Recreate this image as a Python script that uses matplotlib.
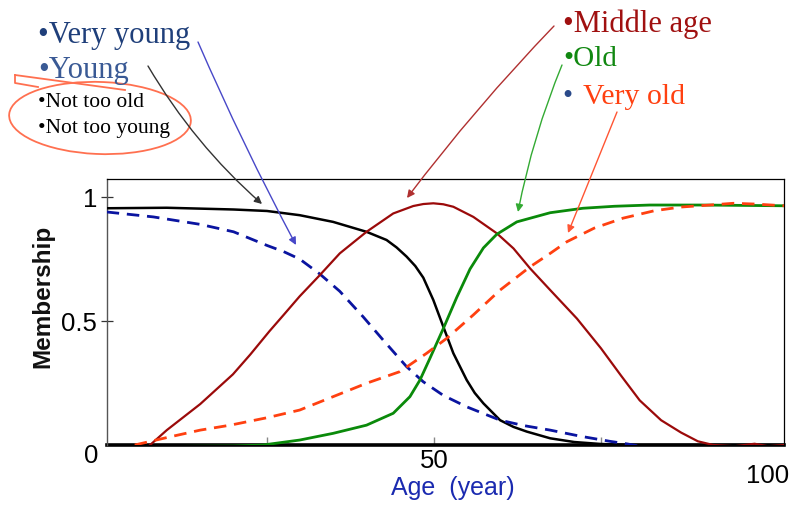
import matplotlib
matplotlib.use("Agg")
import matplotlib.pyplot as plt
from matplotlib.patches import Ellipse, FancyArrowPatch
from matplotlib.lines import Line2D

# ---------------- data ----------------
age_young = [1, 10, 20, 25, 29.9, 34.9, 39.9, 42.9, 44.4, 45.9, 47.2, 48.4, 49.9, 51.4, 52.9, 54.9, 56.1, 57.4, 59.9, 61.9, 63.9, 67.4, 71, 75, 80, 90, 102.4]
young = [0.955, 0.957, 0.95, 0.944, 0.927, 0.90, 0.86, 0.827, 0.797, 0.76, 0.722, 0.675, 0.585, 0.477, 0.37, 0.262, 0.21, 0.168, 0.10, 0.073, 0.054, 0.027, 0.012, 0.004, 0.0, 0.0, 0.0]

age_very_young = [1, 8, 15, 20, 25, 27.5, 29.9, 32.9, 35.9, 39.4, 42.4, 45.9, 48.4, 51.4, 54.9, 59.9, 63.5, 67.4, 72, 76.3, 79, 81.9]
very_young = [0.94, 0.92, 0.89, 0.86, 0.805, 0.78, 0.75, 0.69, 0.62, 0.517, 0.423, 0.316, 0.255, 0.20, 0.154, 0.10, 0.078, 0.06, 0.035, 0.015, 0.004, -0.01]

age_middle = [7.5, 10, 15, 19.9, 22.5, 25.4, 27.5, 29.9, 32.9, 35.9, 39.9, 43.9, 46.9, 48.4, 49.9, 51.4, 52.9, 55.9, 59.4, 61.9, 64.4, 67.4, 71.4, 75, 78, 80.8, 84, 87, 89.5, 91.8, 95, 98, 100, 102.4]
middle = [0.0, 0.06, 0.165, 0.285, 0.365, 0.46, 0.525, 0.60, 0.685, 0.773, 0.86, 0.934, 0.964, 0.972, 0.975, 0.971, 0.961, 0.92, 0.854, 0.793, 0.712, 0.625, 0.51, 0.39, 0.28, 0.18, 0.10, 0.05, 0.015, 0.0, -0.005, 0.005, -0.005, 0.0]

age_old = [1, 10, 20, 24.4, 29.9, 34.9, 39.9, 43.9, 46.4, 47.9, 49.4, 51.4, 53.4, 55.4, 57.4, 59.4, 62.4, 67.4, 72.3, 77, 82.3, 90, 102.4]
old = [-0.006, -0.006, -0.004, 0.0, 0.02, 0.047, 0.08, 0.128, 0.195, 0.262, 0.35, 0.47, 0.595, 0.71, 0.795, 0.85, 0.90, 0.937, 0.955, 0.963, 0.968, 0.968, 0.965]

age_very_old = [5.2, 10, 15, 19.5, 25, 29.9, 34.9, 39.9, 44.9, 48.9, 51.9, 55.9, 59.9, 64.4, 67.4, 69.9, 74, 78.3, 83, 87, 91.3, 94.8, 98, 102.4]
very_old = [0.0, 0.03, 0.06, 0.08, 0.11, 0.141, 0.195, 0.249, 0.296, 0.37, 0.43, 0.525, 0.625, 0.719, 0.773, 0.82, 0.875, 0.915, 0.945, 0.96, 0.968, 0.975, 0.972, 0.965]

ytick_vals = [0.5, 1]
ytick_labels = ["0.5", "1"]
xtick_vals = [25, 50, 75]
xtick_labels = ["", "50", ""]

# ---------------- figure ----------------
W, H = 793, 508
fig = plt.figure(figsize=(W / 100, H / 100), dpi=100)

def P(x, y):
    return (x / W, 1 - y / H)

ax = fig.add_axes([107 / W, 1 - 445 / H, (784 - 107) / W, (445 - 179) / H])
ax.set_xlim(1.05, 102.4)
ax.set_ylim(0, 1.073)

sans = "Liberation Sans"
serif = "Liberation Serif"

ax.plot(age_young, young, color="black", lw=1.8, zorder=3)
ax.plot(age_very_young, very_young, color="#0A14A0", lw=2.0, dashes=(4.5, 2.8), zorder=3)
ax.plot(age_middle, middle, color="#9B0A0A", lw=1.6, zorder=3)
ax.plot(age_old, old, color="#0A8A0A", lw=2.0, zorder=3)
ax.plot(age_very_old, very_old, color="#FF4010", lw=2.0, dashes=(4.5, 2.8), zorder=3)

for side in ["top", "right"]:
    ax.spines[side].set_color("black")
    ax.spines[side].set_linewidth(0.9)
ax.spines["left"].set_color("#555555")
ax.spines["left"].set_linewidth(1.0)
ax.spines["bottom"].set_color("black")
ax.spines["bottom"].set_linewidth(2.6)
ax.spines["bottom"].set_zorder(2)

ax.set_yticks(ytick_vals)
ax.set_yticklabels(ytick_labels, fontsize=18.5, family=sans)
ax.tick_params(axis="y", direction="inout", length=8, width=0.9, color="#333333", pad=3)
ax.set_xticks(xtick_vals)
ax.set_xticklabels(xtick_labels, fontsize=18.5, family=sans)
ax.tick_params(axis="x", direction="in", length=6, width=1, color="#888888", pad=3)

# odd-placed labels
ax.text(-0.3, -0.045, "0", transform=ax.transData, fontsize=18.5, family=sans,
        ha="right", va="center", clip_on=False)
ax.text(100, -0.075, "100", transform=ax.transData, fontsize=18.5, family=sans,
        ha="center", va="top", clip_on=False)

fig.text(*P(43, 296), "Membership", rotation=90, fontsize=17.5, fontweight="bold",
         family=sans, ha="center", va="center", color="#111111")
fig.text(*P(453, 495), "Age  (year)", fontsize=18, family=sans, ha="center",
         va="baseline", color="#1A2AB0")

# ---------------- annotation labels ----------------
fig.text(*P(38, 43), "\u2022Very young", fontsize=22, family=serif, color="#1F3F7A", va="baseline")
fig.text(*P(38, 78), "\u2022Young", fontsize=22, family=serif, color="#3A5A95", va="baseline")
fig.text(*P(38, 107), "\u2022Not too old", fontsize=15.5, family=serif, color="black", va="baseline")
fig.text(*P(38, 133), "\u2022Not too young", fontsize=15.5, family=serif, color="black", va="baseline")

fig.text(*P(563, 32), "\u2022Middle age", fontsize=22, family=serif, color="#A01010", va="baseline")
fig.text(*P(563, 66), "\u2022Old", fontsize=21, family=serif, color="#118811", va="baseline")
fig.text(*P(562, 104), "\u2022", fontsize=21, family=serif, color="#2A4A8A", va="baseline")
fig.text(*P(583, 104), "Very old", fontsize=21.5, family=serif, color="#FF4010", va="baseline")

# hand-drawn ellipse
ell = Ellipse(P(100, 118), 182 / W, 72 / H, angle=-4, transform=fig.transFigure,
              fill=False, edgecolor="#FF7050", lw=1.3)
fig.add_artist(ell)
tail1 = Line2D([15 / W, 125 / W], [1 - 75 / H, 1 - 90 / H],
               transform=fig.transFigure, color="#FF7050", lw=1.3)
tail2 = Line2D([15 / W, 15 / W, 38 / W], [1 - 75 / H, 1 - 83 / H, 1 - 87 / H],
               transform=fig.transFigure, color="#FF7050", lw=1.3)
fig.add_artist(tail1)
fig.add_artist(tail2)

# arrows
def arrow(a, b, color, rad=0.0, lw=1.0):
    fa = FancyArrowPatch(P(*a), P(*b), transform=fig.transFigure,
                         arrowstyle="-|>", mutation_scale=11, color=color, lw=lw,
                         connectionstyle=f"arc3,rad={rad}", shrinkA=0, shrinkB=0)
    fig.add_artist(fa)

arrow((148, 66), (262, 204), "#333333", rad=0.08)
arrow((198, 42), (296, 245), "#4848C8", rad=0.02)
arrow((554, 26), (407, 198), "#B03030", rad=0.03)
arrow((562, 65), (518, 212), "#33AA33", rad=0.05)
arrow((617, 112), (568, 233), "#FF5533", rad=0.0)

fig.savefig("out.png", dpi=100)
